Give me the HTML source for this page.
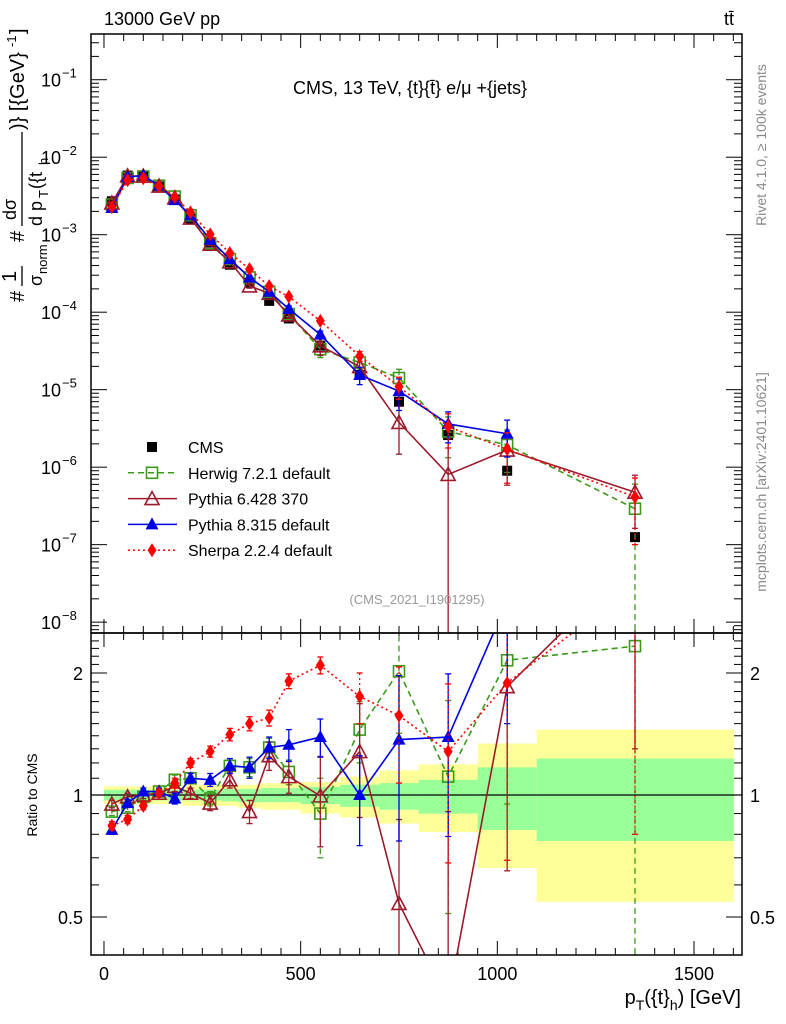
<!DOCTYPE html>
<html><head><meta charset="utf-8"><style>
html,body{margin:0;padding:0;background:#fff;width:786px;height:1024px;overflow:hidden}
svg{font-family:"Liberation Sans",sans-serif;display:block}
</style></head><body>
<svg id="chart" width="786" height="1024" viewBox="0 0 786 1024" xmlns="http://www.w3.org/2000/svg">
<defs>
<clipPath id="cm"><rect x="91" y="34" width="651" height="599"/></clipPath>
<clipPath id="cr"><rect x="91" y="633" width="651" height="322"/></clipPath>
</defs>
<g id="bands" clip-path="url(#cr)"></g>
<g id="grid"></g>
<g id="series"></g>
<rect x="91" y="34" width="651" height="599" fill="none" stroke="#000" stroke-width="1.5"/>
<rect x="91" y="633" width="651" height="322" fill="none" stroke="#000" stroke-width="1.5"/>
<text x="104" y="25" font-size="18">13000 GeV pp</text>
<text x="729" y="25" font-size="18" text-anchor="middle">tt̄</text>
<text x="410" y="94" font-size="18" text-anchor="middle">CMS, 13 TeV, {t}{t̄} e/μ +{jets}</text>
<text x="417" y="604" font-size="13" fill="#999" text-anchor="middle">(CMS_2021_I1901295)</text>
<text transform="translate(766,145) rotate(-90)" font-size="14" fill="#888" text-anchor="middle">Rivet 4.1.0, ≥ 100k events</text>
<text transform="translate(766,482) rotate(-90)" font-size="14" fill="#888" text-anchor="middle">mcplots.cern.ch [arXiv:2401.10621]</text>
<g transform="translate(24,302) rotate(-90)" font-size="20">
<text x="0" y="0">#</text>
<text x="20" y="-8" font-size="20">1</text>
<line x1="16" y1="-2" x2="36" y2="-2" stroke="#000" stroke-width="1.3"/>
<text x="16" y="18" font-size="18">σ</text><text x="28" y="23" font-size="13">norm</text>
<text x="60" y="0">#</text>
<text x="82" y="-8" font-size="18">dσ</text>
<line x1="76" y1="-2" x2="170" y2="-2" stroke="#000" stroke-width="1.3"/>
<text x="76" y="18" font-size="18">d p</text><text x="104" y="24" font-size="13">T</text><text x="113" y="18" font-size="18">({t</text><text x="137" y="24" font-size="13">h</text>
<text x="172" y="0">)} [{GeV}</text><text x="255" y="-8" font-size="13">-1</text><text x="268" y="0">]</text>
</g>
<text transform="translate(37,795) rotate(-90)" font-size="14" text-anchor="middle">Ratio to CMS</text>
<g font-size="20" text-anchor="end">
<text x="741" y="1004">p<tspan font-size="14" dy="6">T</tspan><tspan dy="-6">({t}</tspan><tspan font-size="14" dy="6">h</tspan><tspan dy="-6">) [GeV]</tspan></text>
</g>
<g id="legend"></g>
</svg>
<script>
const centers=[20,60,100,140,180,220,270,320,370,420,470,550,650,750,875,1025,1350];
const binEdges=[0,40,80,120,160,200,240,300,340,400,440,500,600,700,800,950,1100,1600];
const cmsValues=[2.7e-3,5.8e-3,5.7e-3,4.2e-3,2.85e-3,1.62e-3,7.9e-4,4.1e-4,2.4e-4,1.4e-4,8.3e-5,3.7e-5,1.55e-5,7e-6,2.6e-6,9e-7,1.25e-7];
const bandYellowUp=[1.05,1.05,1.05,1.05,1.05,1.06,1.06,1.06,1.06,1.07,1.07,1.077,1.11,1.15,1.19,1.34,1.45];
const bandYellowDn=[0.95,0.95,0.95,0.95,0.95,0.94,0.94,0.94,0.93,0.92,0.92,0.90,0.88,0.85,0.81,0.66,0.545];
const bandGreenUp=[1.03,1.03,1.03,1.03,1.03,1.03,1.03,1.035,1.035,1.04,1.04,1.047,1.06,1.07,1.09,1.17,1.23];
const bandGreenDn=[0.97,0.97,0.97,0.97,0.97,0.97,0.97,0.965,0.96,0.96,0.96,0.95,0.935,0.92,0.90,0.82,0.77];
const herwigRatio=[0.91,0.93,0.99,1.02,1.09,1.10,0.98,1.18,1.17,1.31,1.14,0.90,1.45,2.02,1.11,2.15,2.33];
const herwigErr=[0.02,0.02,0.02,0.02,0.03,0.03,0.04,0.05,0.06,0.07,0.08,0.2,0.25,0.6,0.6,1.2,2.5];
const py6Ratio=[0.95,0.99,1.0,1.01,1.05,1.01,0.955,1.09,0.91,1.25,1.11,0.995,1.28,0.54,0.31,1.85,3.8];
const py6Err=[0.02,0.02,0.02,0.02,0.03,0.03,0.04,0.05,0.06,0.1,0.1,0.25,0.4,0.33,0.6,1.2,2.5];
const py8Ratio=[0.82,0.955,1.02,1.02,0.98,1.10,1.09,1.18,1.17,1.31,1.33,1.39,1.0,1.37,1.39,3.0];
const py8Err=[0.02,0.02,0.02,0.02,0.03,0.03,0.04,0.05,0.07,0.08,0.12,0.15,0.25,0.6,0.6,1.5];
const sherpaRatio=[0.84,0.87,0.94,1.01,1.07,1.20,1.28,1.41,1.50,1.55,1.91,2.09,1.75,1.57,1.28,1.89,3.3];
const sherpaErr=[0.02,0.02,0.02,0.02,0.03,0.03,0.04,0.05,0.06,0.07,0.08,0.1,0.25,0.5,0.6,1.2,2.5];
const mainTicks=["-1","-2","-3","-4","-5","-6","-7","-8"];
const xTickLabels=[0,500,1000,1500];
const ratioTicks=[2,1,0.5];

const NS="http://www.w3.org/2000/svg";
const X0=91,X1=742,XMIN=-33,XMAX=1622;
const X=v=>X0+(v-XMIN)/(XMAX-XMIN)*(X1-X0);
const MT=34,MB=633,LTOP=-0.41,LBOT=-8.14;
const Y=v=>MT+(LTOP-Math.log10(v))/(LTOP-LBOT)*(MB-MT);
const RT=633,RB=955,R1Y=795,PX2=122;
const R=v=>R1Y-Math.log2(v)*PX2;
function el(tag,attrs,parent){const e=document.createElementNS(NS,tag);for(const k in attrs)e.setAttribute(k,attrs[k]);parent.appendChild(e);return e;}
const svg=document.getElementById('chart');
const grid=document.getElementById('grid');
const bands=document.getElementById('bands');
const series=document.getElementById('series');

for(let i=0;i<centers.length;i++){
  const xa=X(binEdges[i]),xb=X(binEdges[i+1]);
  const y=el('rect',{x:xa,y:R(bandYellowUp[i]),width:xb-xa+0.5,height:R(bandYellowDn[i])-R(bandYellowUp[i]),fill:'#ffff99'},bands);
  
  
  const g=el('rect',{x:xa,y:R(bandGreenUp[i]),width:xb-xa+0.5,height:R(bandGreenDn[i])-R(bandGreenUp[i]),fill:'#99ff99'},bands);
  
  
}
const one=el('line',{x1:X0,x2:X1,y1:R(1),y2:R(1),stroke:'#000','stroke-width':1.2},grid);



for(let v=0;v<=1600;v+=50){
  const maj=v%500===0,L=maj?14:7;
  for(const [yb,dir] of [[MT,1],[MB,-1],[RT,1],[RB,-1]]){
    el('line',{x1:X(v),x2:X(v),y1:yb,y2:yb+dir*L,stroke:'#000','stroke-width':1},grid);
  }
}
xTickLabels.forEach(v=>{
  const t=el('text',{x:X(v),y:980,'font-size':18,'text-anchor':'middle'},svg);
  t.textContent=v;
  
  
});
for(let d=-9;d<=0;d++){
  for(let m=1;m<10;m++){
    const v=m*Math.pow(10,d),y=Y(v);
    if(y<MT||y>MB)continue;
    const L=m===1?16:8;
    el('line',{x1:X0,x2:X0+L,y1:y,y2:y,stroke:'#000','stroke-width':1},grid);
    el('line',{x1:X1,x2:X1-L,y1:y,y2:y,stroke:'#000','stroke-width':1},grid);
  }
}
mainTicks.forEach(p=>{
  const y=Y(Math.pow(10,+p));
  const t=el('text',{x:61,y:y+7,'font-size':18,'text-anchor':'end'},svg);
  t.textContent='10';
  
  
  const s=el('text',{x:62,y:y-2,'font-size':13},svg);
  s.textContent='−'+p.slice(1);
  
  
});
for(let v=0.4;v<=2.5;v+=0.1){
  const y=R(v);if(y<RT||y>RB)continue;
  const maj=[0.5,1,2].some(a=>Math.abs(a-v)<1e-6),L=maj?16:8;
  el('line',{x1:X0,x2:X0+L,y1:y,y2:y,stroke:'#000','stroke-width':1},grid);
  el('line',{x1:X1,x2:X1-L,y1:y,y2:y,stroke:'#000','stroke-width':1},grid);
}
ratioTicks.forEach(v=>{
  for(const [x,a] of [[83,'end'],[750,'start']]){
    const t=el('text',{x:x,y:R(v)+7,'font-size':18,'text-anchor':a},svg);
    t.textContent=v;
    
    
  }
});

function marker(g,type,color,x,y){
  if(type==='sq')el('rect',{x:x-5,y:y-5,width:10,height:10,fill:'#000'},g);
  else if(type==='osq')el('rect',{x:x-5.5,y:y-5.5,width:11,height:11,fill:'#fff','fill-opacity':0,stroke:color,'stroke-width':1.6},g);
  else if(type==='otri')el('polygon',{points:`${x},${y-7} ${x-7},${y+6} ${x+7},${y+6}`,fill:'none',stroke:color,'stroke-width':1.6},g);
  else if(type==='tri')el('polygon',{points:`${x},${y-7} ${x-6.5},${y+5} ${x+6.5},${y+5}`,fill:color},g);
  else if(type==='dia')el('polygon',{points:`${x},${y-7} ${x-4.5},${y} ${x},${y+7} ${x+4.5},${y}`,fill:color},g);
}
const defs=[
 {name:'herwig',r:herwigRatio,e:herwigErr,c:'#3c9a1a',dash:'6,4',m:'osq',label:'Herwig 7.2.1 default'},
 {name:'pythia6',r:py6Ratio,e:py6Err,c:'#9b1b2b',dash:'',m:'otri',label:'Pythia 6.428 370'},
 {name:'pythia8',r:py8Ratio,e:py8Err,c:'#0000e6',dash:'',m:'tri',label:'Pythia 8.315 default'},
 {name:'sherpa',r:sherpaRatio,e:sherpaErr,c:'#ff0000',dash:'2,3',m:'dia',label:'Sherpa 2.2.4 default'}
];
const cg=el('g',{'clip-path':'url(#cm)'},series);


cmsValues.forEach((v,i)=>marker(cg,'sq','#000',X(centers[i]),Y(v)));
defs.forEach(s=>{
  for(const [panel,clip] of [['main','cm'],['ratio','cr']]){
    const g=el('g',{'clip-path':`url(#${clip})`},series);
    
    
    const f=i=>panel==='main'?Y(cmsValues[i]*s.r[i]):R(s.r[i]);
    const fv=(i,v)=>panel==='main'?Y(Math.max(cmsValues[i]*v,1e-12)):R(Math.max(v,0.01));
    const pts=s.r.map((v,i)=>X(centers[i])+','+f(i)).join(' ');
    el('polyline',{points:pts,fill:'none',stroke:s.c,'stroke-width':1.6,'stroke-dasharray':s.dash},g);
    s.r.forEach((v,i)=>{
      const x=X(centers[i]),y1=fv(i,v+s.e[i]),y2=fv(i,v-s.e[i]);
      el('line',{x1:x,x2:x,y1:y1,y2:y2,stroke:s.c,'stroke-width':1.3,'stroke-dasharray':s.dash},g);
      el('line',{x1:x-3,x2:x+3,y1:y1,y2:y1,stroke:s.c,'stroke-width':1.3},g);
      el('line',{x1:x-3,x2:x+3,y1:y2,y2:y2,stroke:s.c,'stroke-width':1.3},g);
    });
    s.r.forEach((v,i)=>marker(g,s.m,s.c,X(centers[i]),f(i)));
  }
});

const leg=document.getElementById('legend');
const rows=[{m:'sq',c:'#000',dash:null,label:'CMS'}].concat(defs);
rows.forEach((s,k)=>{
  const y=447+k*25.8;
  const g=el('g',{},leg);
  
  
  if(s.dash!==null)el('line',{x1:128,x2:177,y1:y,y2:y,stroke:s.c,'stroke-width':1.5,'stroke-dasharray':s.dash},g);
  marker(g,s.m,s.c,152,y);
  const t=el('text',{x:188,y:y+6,'font-size':16},g);
  t.textContent=s.label;
});
</script>
</body></html>
